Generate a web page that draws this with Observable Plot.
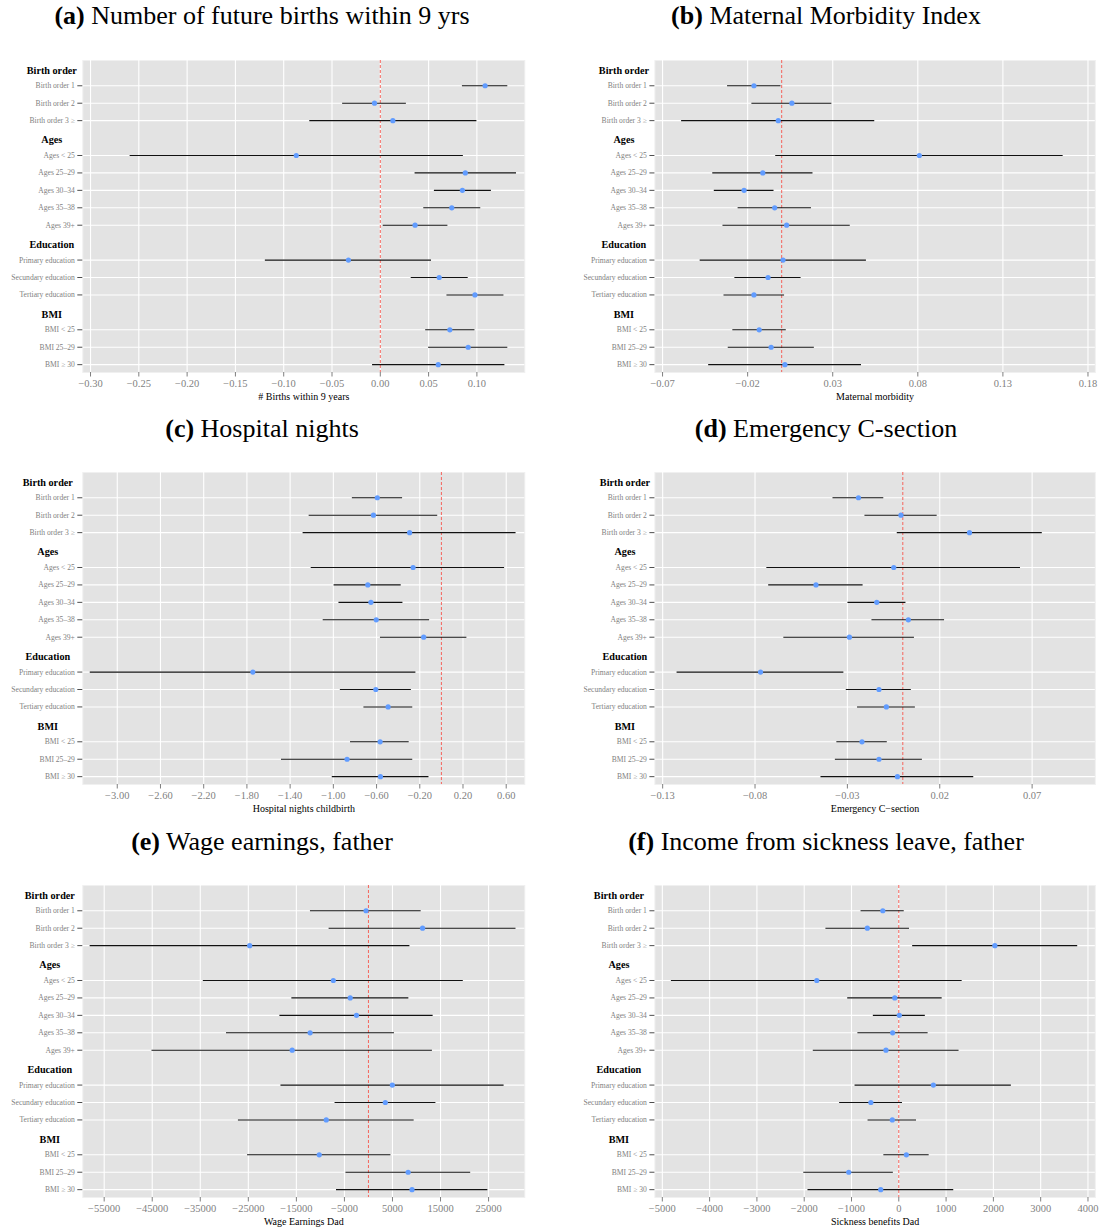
<!DOCTYPE html>
<html>
<head>
<meta charset="utf-8">
<script src="https://cdn.jsdelivr.net/npm/d3@7"></script>
<script src="https://cdn.jsdelivr.net/npm/@observablehq/plot@0.6"></script>
<style>
  html, body { margin: 0; padding: 0; background: #fff; }
  #page { position: relative; width: 1101px; height: 1229px; overflow: hidden; font-family: "Liberation Serif", serif; }
  .title { position: absolute; width: 540px; text-align: center; font-size: 26px; line-height: 26px; color: #000; white-space: nowrap; }
  .title b { font-weight: bold; }
  .panel { position: absolute; }
</style>
</head>
<body>
<div id="page"></div>
<script>
// ---------- rows ----------
const groupHeaders = ["Birth order", "Ages", "Education", "BMI"];
const groupItems = [
  ["Birth order 1", "Birth order 2", "Birth order 3 ≥"],
  ["Ages < 25", "Ages 25–29", "Ages 30–34", "Ages 35–38", "Ages 39+"],
  ["Primary education", "Secundary education", "Tertiary education"],
  ["BMI < 25", "BMI 25–29", "BMI ≥ 30"]
];
const items = groupItems.flat();
const rowOrder = groupHeaders.flatMap((h, i) => [h, ...groupItems[i]]);

// ---------- (a) births ----------
const aEst = [0.1085, -0.006, 0.013, -0.087, 0.088, 0.085, 0.074, 0.036, -0.033, 0.061, 0.098, 0.072, 0.091, 0.060];
const aLo  = [0.085, -0.039, -0.073, -0.259, 0.036, 0.056, 0.045, 0.003, -0.119, 0.032, 0.069, 0.047, 0.050, -0.008];
const aHi  = [0.132, 0.027, 0.100, 0.086, 0.141, 0.115, 0.104, 0.070, 0.053, 0.091, 0.128, 0.098, 0.132, 0.129];
const aTicks = [-0.30, -0.25, -0.20, -0.15, -0.10, -0.05, 0.00, 0.05, 0.10];

// ---------- (b) maternal morbidity ----------
const bEst = [-0.0163, 0.006, -0.002, 0.0809, -0.0111, -0.0221, -0.0041, 0.0029, 0.0008, -0.008, -0.0163, -0.0132, -0.0062, 0.0019];
const bLo  = [-0.0318, -0.0175, -0.0588, -0.0035, -0.0405, -0.0396, -0.0256, -0.0345, -0.0479, -0.0275, -0.0339, -0.0287, -0.0314, -0.0429];
const bHi  = [-0.0004, 0.0295, 0.0547, 0.1654, 0.0184, -0.0045, 0.0175, 0.0403, 0.0498, 0.0114, 0.0017, 0.0027, 0.0192, 0.0469];
const bTicks = [-0.07, -0.02, 0.03, 0.08, 0.13, 0.18];

// ---------- (c) hospital nights ----------
const cEst = [-0.593, -0.629, -0.294, -0.262, -0.681, -0.652, -0.603, -0.164, -1.745, -0.607, -0.493, -0.567, -0.873, -0.564];
const cLo  = [-0.824, -1.224, -1.280, -1.205, -0.993, -0.948, -1.094, -0.564, -3.250, -0.935, -0.717, -0.841, -1.480, -1.010];
const cHi  = [-0.359, -0.034, 0.691, 0.585, -0.372, -0.356, -0.109, 0.236, -0.236, -0.278, -0.265, -0.298, -0.265, -0.115];
const cTicks = [-3.00, -2.60, -2.20, -1.80, -1.40, -1.00, -0.60, -0.20, 0.20, 0.60];

// ---------- (d) emergency C-section ----------
const dEst = [-0.024, -0.001, 0.0361, -0.0049, -0.047, -0.0141, 0.003, -0.0289, -0.077, -0.0129, -0.0089, -0.0221, -0.0129, -0.0029];
const dLo  = [-0.0378, -0.0205, -0.003, -0.0736, -0.0726, -0.0297, -0.0167, -0.0644, -0.1222, -0.0306, -0.0245, -0.0357, -0.0365, -0.0443];
const dHi  = [-0.0103, 0.0186, 0.0755, 0.0637, -0.0215, 0.0017, 0.0226, 0.0063, -0.0319, 0.0046, 0.0068, -0.0084, 0.0106, 0.0384];
const dTicks = [-0.13, -0.08, -0.03, 0.02, 0.07];

// ---------- (e) wage earnings dad ----------
const eEst = [-500, 11260, -24720, -7310, -3800, -2490, -12140, -15870, 4970, 3510, -8780, -10240, 8260, 9070];
const eLo  = [-12070, -8190, -57920, -34370, -15940, -18430, -29540, -45050, -18210, -6950, -27060, -25160, -4680, -6650];
const eHi  = [10970, 30710, 8630, 19740, 8410, 13460, 5410, 13310, 28230, 14040, 9510, 4680, 21280, 24860];
const eTicks = [-55000, -45000, -35000, -25000, -15000, -5000, 5000, 15000, 25000];

// ---------- (f) sickness benefits dad ----------
const fEst = [-338, -665, 2031, -1734, -85, 11, -130, -271, 731, -590, -137, 160, -1058, -382];
const fLo  = [-798, -1541, 293, -4808, -1080, -538, -865, -1808, -925, -1251, -650, -316, -2009, -1920];
const fHi  = [115, 226, 3783, 1340, 917, 561, 620, 1274, 2380, 78, 375, 642, -115, 1162];
const fTicks = [-5000, -4000, -3000, -2000, -1000, 0, 1000, 2000, 3000, 4000];

const panels = [
  {tag: "(a)", title: "Number of future births within 9 yrs", xlabel: "# Births within 9 years",
   est: aEst, lo: aLo, hi: aHi, ticks: aTicks, fmt: d3.format(".2f"), domain: [-0.308, 0.1496],
   col: 0, row: 0, hdx: -31},
  {tag: "(b)", title: "Maternal Morbidity Index", xlabel: "Maternal morbidity",
   est: bEst, lo: bLo, hi: bHi, ticks: bTicks, fmt: d3.format(".2f"), domain: [-0.0745, 0.1843],
   col: 1, row: 0, hdx: -31},
  {tag: "(c)", title: "Hospital nights", xlabel: "Hospital nights childbirth",
   est: cEst, lo: cLo, hi: cHi, ticks: cTicks, fmt: d3.format(".2f"), domain: [-3.319, 0.772],
   col: 0, row: 1, hdx: -35},
  {tag: "(d)", title: "Emergency C-section", xlabel: "Emergency C−section",
   est: dEst, lo: dLo, hi: dHi, ticks: dTicks, fmt: d3.format(".2f"), domain: [-0.1342, 0.1042],
   col: 1, row: 1, hdx: -30},
  {tag: "(e)", title: "Wage earnings, father", xlabel: "Wage Earnings Dad",
   est: eEst, lo: eLo, hi: eHi, ticks: eTicks, fmt: d3.format("d"), domain: [-59450, 32540],
   col: 0, row: 2, hdx: -33},
  {tag: "(f)", title: "Income from sickness leave, father", xlabel: "Sickness benefits Dad",
   est: fEst, lo: fLo, hi: fHi, ticks: fTicks, fmt: d3.format("d"), domain: [-5157, 4155],
   col: 1, row: 2, hdx: -36}
];

const page = document.getElementById("page");
const rowTop = [40, 452, 865];       // svg top per row
const titleTop = [3, 416, 829];
const titleCenter = [262, 826];

for (const p of panels) {
  const data = items.map((label, i) => ({label, est: p.est[i], lo: p.lo[i], hi: p.hi[i]}));
  const left = p.col === 0;
  const width = left ? 550 : 551;
  const marginLeft = left ? 82.3 : 104.4;
  const marginRight = left ? 25.7 : 6.2;

  const chart = Plot.plot({
    width,
    height: 367,
    marginTop: 20,
    marginBottom: 35,
    marginLeft,
    marginRight,
    style: {fontFamily: "Liberation Serif, serif", background: "transparent", overflow: "visible"},
    x: {domain: p.domain, axis: null},
    y: {type: "point", domain: rowOrder, padding: 0.45, round: false, axis: null},
    marks: [
      Plot.frame({fill: "#e3e3e3", stroke: "#f0f0f0", strokeWidth: 1}),
      Plot.ruleX(p.ticks, {stroke: "white", strokeWidth: 1.1}),
      Plot.ruleY(items, {stroke: "white", strokeWidth: 1.1}),
      Plot.ruleX([0], {stroke: "#f5645c", strokeWidth: 1, strokeDasharray: "3,2"}),
      Plot.ruleY(data, {y: "label", x1: "lo", x2: "hi", stroke: "#111", strokeWidth: 1.1}),
      Plot.dot(data, {x: "est", y: "label", r: 2.6, fill: "#619cff", stroke: "none"}),
      Plot.axisY({ticks: items, tickSize: 5, tickPadding: 3, fontSize: 7.6, fill: "#7f7f7f", stroke: "#4d4d4d", label: null}),
      Plot.text(groupHeaders, {y: d => d, text: d => d, frameAnchor: "left", dx: p.hdx, dy: 2,
        textAnchor: "middle", fontWeight: "bold", fontSize: 10.2, fill: "black"}),
      Plot.axisX({ticks: p.ticks, tickFormat: p.fmt, tickSize: 4.5, tickPadding: 2.5, fontSize: 10.5,
        fill: "#7f7f7f", stroke: "#7f7f7f", label: null}),
      Plot.text([p.xlabel], {text: d => d, frameAnchor: "bottom", dy: 24, fontSize: 10, fill: "black", lineAnchor: "middle"})
    ]
  });
  const holder = document.createElement("div");
  holder.className = "panel";
  holder.style.left = (left ? 0 : 550) + "px";
  holder.style.top = rowTop[p.row] + "px";
  holder.appendChild(chart);
  page.appendChild(holder);

  const t = document.createElement("div");
  t.className = "title";
  t.style.left = (titleCenter[p.col] - 270) + "px";
  t.style.top = titleTop[p.row] + "px";
  t.innerHTML = "<b>" + p.tag + "</b> " + p.title;
  page.appendChild(t);
}
</script>
</body>
</html>
